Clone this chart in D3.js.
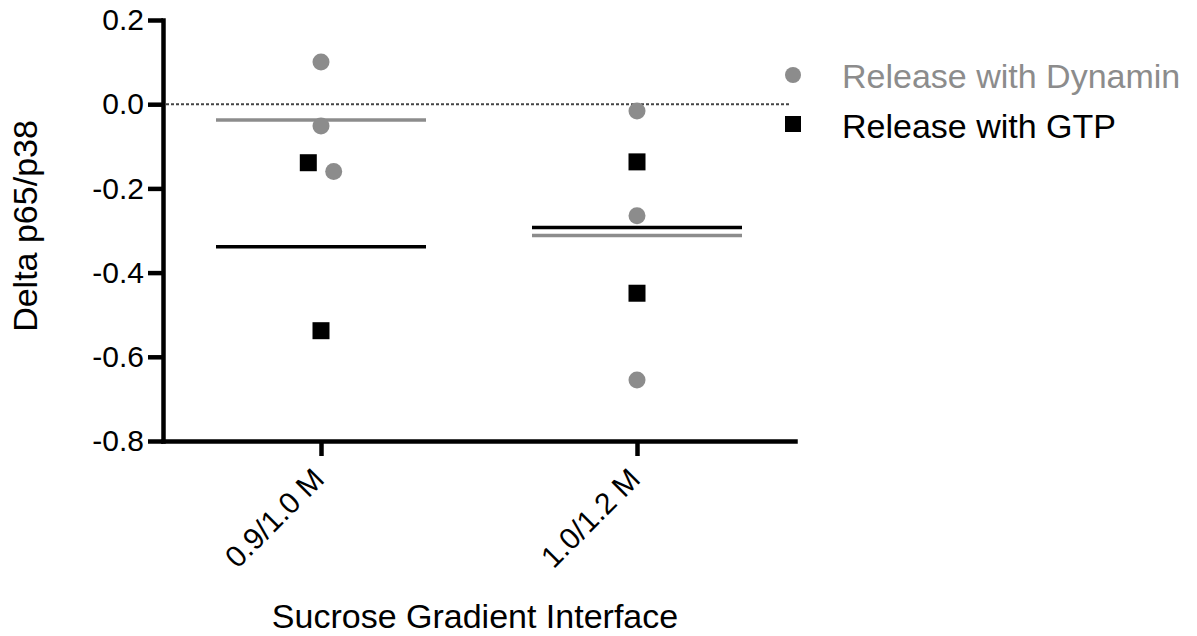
<!DOCTYPE html>
<html>
<head>
<meta charset="utf-8">
<script src="https://cdn.jsdelivr.net/npm/d3@7"></script>
<style>
  html, body { margin: 0; padding: 0; background: #fff; }
  svg { display: block; font-family: "Liberation Sans", Arial, Helvetica, sans-serif; }
</style>
</head>
<body>
<svg id="chart" width="1197" height="636"></svg>
<script>
// ---- data ----
const categories = ["0.9/1.0 M", "1.0/1.2 M"];
const seriesNames = ["Release with Dynamin", "Release with GTP"];
const dynaminValues = [[0.100, -0.052, -0.160], [-0.016, -0.265, -0.655]];
const dynaminSlots  = [[0, 0, 1], [0, 0, 0]];
const gtpValues     = [[-0.139, -0.538], [-0.137, -0.449]];
const gtpSlots      = [[-1, 0], [0, 0]];
const yTickValues   = [0.2, 0.0, -0.2, -0.4, -0.6, -0.8];
const yDomain       = [-0.8, 0.2];

// ---- layout ----
const svg = d3.select("#chart");
const plotLeft = 163, plotRight = 795, plotTop = 20, plotBottom = 441;
const grey = "#8c8c8c";
const slotStep = 12.7;
const meanHalf = 105;

const x = d3.scalePoint().domain(categories).range([plotLeft, plotRight]).padding(0.5);
const y = d3.scaleLinear().domain(yDomain).range([plotBottom, plotTop]);

const fmt = d3.formatLocale({decimal: ".", thousands: ",", grouping: [3], currency: ["", ""], minus: "-"}).format(".1f");

// zero reference line
svg.append("line")
  .attr("x1", plotLeft + 3).attr("x2", 790)
  .attr("y1", y(0)).attr("y2", y(0))
  .attr("stroke", "#444").attr("stroke-width", 2)
  .attr("stroke-dasharray", "3,2");

// y axis
const yAxis = svg.append("g")
  .attr("transform", `translate(${plotLeft},0)`)
  .call(d3.axisLeft(y).tickValues(yTickValues).tickFormat(fmt).tickSize(15).tickSizeOuter(0).tickPadding(4));
// x axis
const xAxis = svg.append("g")
  .attr("transform", `translate(0,${plotBottom})`)
  .call(d3.axisBottom(x).tickSize(15).tickSizeOuter(0).tickFormat(""));

[yAxis, xAxis].forEach(g => {
  g.select(".domain").attr("stroke", "#000").attr("stroke-width", 4.5).attr("stroke-linecap", "square");
  g.selectAll(".tick line").attr("stroke", "#000").attr("stroke-width", 4.5);
});
yAxis.selectAll(".tick text")
  .attr("font-size", 30).attr("fill", "#000")
  .attr("font-family", "Liberation Sans, Arial, sans-serif");

// x tick labels rotated
svg.append("g").selectAll("text")
  .data(categories).join("text")
  .attr("transform", d => `translate(${x(d) + 5},${plotBottom + 40}) rotate(-45)`)
  .attr("text-anchor", "end")
  .attr("font-size", 30)
  .attr("fill", "#000")
  .text(d => d);

// axis titles
svg.append("text")
  .attr("transform", `translate(37,226) rotate(-90)`)
  .attr("text-anchor", "middle")
  .attr("font-size", 34)
  .text("Delta p65/p38");
svg.append("text")
  .attr("x", 475).attr("y", 628)
  .attr("text-anchor", "middle")
  .attr("font-size", 34)
  .text("Sucrose Gradient Interface");

// mean lines
const gtpMeans = gtpValues.map(v => d3.mean(v));
const dynMeans = dynaminValues.map(v => d3.mean(v));
svg.append("g").selectAll("line")
  .data(categories).join("line")
  .attr("x1", d => x(d) - meanHalf).attr("x2", d => x(d) + meanHalf)
  .attr("y1", (d, i) => y(dynMeans[i])).attr("y2", (d, i) => y(dynMeans[i]))
  .attr("stroke", grey).attr("stroke-width", 3.5);
svg.append("g").selectAll("line")
  .data(categories).join("line")
  .attr("x1", d => x(d) - meanHalf).attr("x2", d => x(d) + meanHalf)
  .attr("y1", (d, i) => y(gtpMeans[i])).attr("y2", (d, i) => y(gtpMeans[i]))
  .attr("stroke", "#000").attr("stroke-width", 3.5);

// points
const dynPts = [], gtpPts = [];
categories.forEach((c, i) => {
  dynaminValues[i].forEach((v, j) => dynPts.push({c, v, s: dynaminSlots[i][j]}));
  gtpValues[i].forEach((v, j) => gtpPts.push({c, v, s: gtpSlots[i][j]}));
});
svg.append("g").selectAll("circle")
  .data(dynPts).join("circle")
  .attr("cx", d => x(d.c) + d.s * slotStep)
  .attr("cy", d => y(d.v))
  .attr("r", 8.5)
  .attr("fill", grey);
const sq = 17;
svg.append("g").selectAll("rect")
  .data(gtpPts).join("rect")
  .attr("x", d => x(d.c) + d.s * slotStep - sq / 2)
  .attr("y", d => y(d.v) - sq / 2)
  .attr("width", sq).attr("height", sq)
  .attr("fill", "#000");

// legend
const lg = svg.append("g");
lg.append("circle").attr("cx", 793).attr("cy", 75).attr("r", 8).attr("fill", grey);
lg.append("rect").attr("x", 785).attr("y", 116).attr("width", 16).attr("height", 16).attr("fill", "#000");
lg.selectAll("text").data(seriesNames).join("text")
  .attr("x", 842)
  .attr("y", (d, i) => 88 + i * 50)
  .attr("font-size", 34)
  .attr("fill", (d, i) => i === 0 ? grey : "#000")
  .text(d => d);
</script>
</body>
</html>
